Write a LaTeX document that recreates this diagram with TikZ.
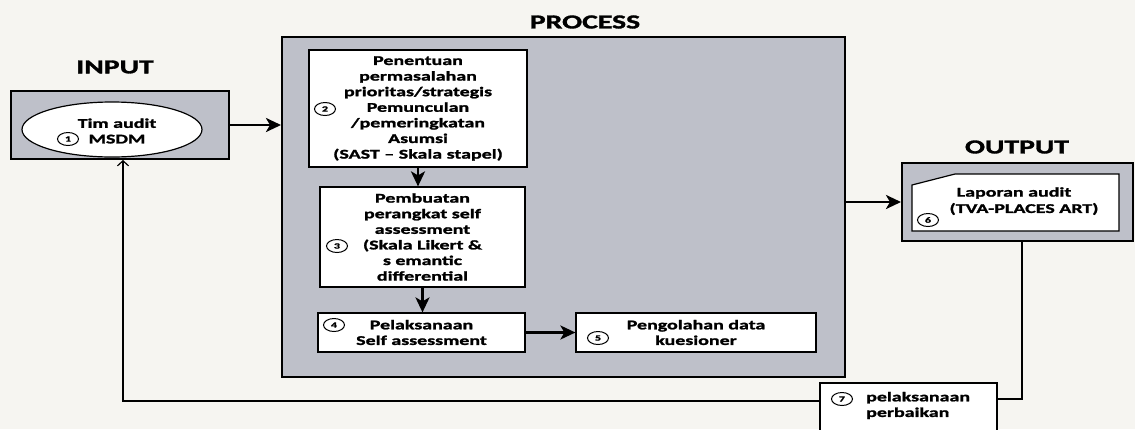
\documentclass[tikz,border=0pt]{standalone}
\usepackage{fontspec}
\setmainfont{Carlito}[FakeStretch=1.5,BoldFeatures={FakeBold=1.6}]
\usetikzlibrary{arrows.meta,shapes.geometric}
\definecolor{paper}{RGB}{246,245,241}
\definecolor{panel}{RGB}{190,192,201}

\begin{document}
\begin{tikzpicture}[x=1pt,y=-1pt,
  panelbox/.style={draw=black,line width=2pt,fill=panel,inner sep=0pt},
  stepbox/.style={draw=black,line width=1.2pt,fill=white,inner sep=0pt,
    font=\bfseries\fontsize{13.3}{15.6}\selectfont,align=center},
  txt/.style={font=\bfseries\fontsize{13.3}{15.6}\selectfont,inner sep=0pt},
  head/.style={font=\bfseries\fontsize{19.8}{22}\selectfont,inner sep=0pt},
  num/.style={draw=black,line width=1pt,ellipse,minimum width=21pt,
    minimum height=13pt,inner sep=0pt,fill=white,
    font=\bfseries\fontsize{8}{8}\selectfont},
  flow/.style={line width=2.8pt,-{Stealth[length=15pt,width=14pt,inset=4pt]}},
  link/.style={line width=1.2pt},
  back/.style={line width=1.2pt,-{Straight Barb[length=5pt,width=11pt]}}]

% page
\fill[paper] (0,0) rectangle (1135,429);
\useasboundingbox (0,0) rectangle (1135,429);

% headings
\node[head] (hin)   at (115,67)  {INPUT};
\node[head] (hproc) at (585,22)  {PROCESS};
\node[head] (hout)  at (1017,147) {OUTPUT};

% input
\node[panelbox,minimum width=218pt,minimum height=68pt] (inbox) at (120,125) {};
\node[draw=black,line width=1.2pt,fill=white,ellipse,minimum width=180pt,
  minimum height=55pt,inner sep=0pt] (team) at (112,129.5) {};
\node[txt,align=center] (teamtxt) at (117,131) {Tim audit\\MSDM};
\node[num] (n1) at (68,139) {1};

% process
\node[panelbox,minimum width=563pt,minimum height=340pt] (procbox) at (563.5,207) {};
\node[stepbox,minimum width=218pt,minimum height=117pt] (b2) at (418,108.5)
  {Penentuan\\permasalahan\\prioritas/strategis\\Pemunculan\\/pemeringkatan\\Asumsi\\(SAST -- Skala stapel)};
\node[num] (n2) at (325,109) {2};
\node[stepbox,minimum width=205pt,minimum height=100pt] (b3) at (422.5,237)
  {Pembuatan\\perangkat self\\assessment\\(Skala Likert \&\\s emantic\\differential};
\node[num] (n3) at (337,246) {3};
\node[stepbox,minimum width=207pt,minimum height=39pt] (b4) at (421.5,332.5)
  {Pelaksanaan\\Self assessment};
\node[num] (n4) at (334,325) {4};
\node[stepbox,minimum width=240pt,minimum height=39pt] (b5) at (696,332.5)
  {Pengolahan data\\kuesioner};
\node[num] (n5) at (598,338) {5};

% output
\node[panelbox,minimum width=231pt,minimum height=78pt] (outbox) at (1017.5,202) {};
\draw[draw=black,line width=1.2pt,fill=white]
  (912,185) -- (955,174) -- (1119,174) -- (1119,231) -- (912,231) -- cycle;
\node[txt] (rep1) at (1014,193) {Laporan audit};
\node[txt] (rep2) at (1024,209) {(TVA-PLACES ART)};
\node[num] (n6) at (928,220) {6};

% improvement step
\node[draw=black,line width=1.2pt,fill=white,minimum width=177pt,
  minimum height=52pt,inner sep=0pt] (b7) at (908.5,409) {};
\node[txt,align=left,anchor=west] (b7txt) at (866,405.5) {pelaksanaan\\perbaikan};
\node[num] (n7) at (842,399) {7};

% connectors
\draw[flow] (inbox.east) -- (inbox.east -| procbox.west);
\draw[flow] (b2.south) -- (b2.south |- b3.north);
\draw[flow] (b3.south) -- (b3.south |- b4.north);
\draw[flow] (b4.east) -- (b4.east -| b5.west);
\draw[flow] (outbox.west -| procbox.east) -- (outbox.west);

\coordinate (fb) at (1022,399);
\draw[link] (outbox.south -| fb) -- (fb) -- (fb -| b7.east);
\coordinate (ret) at (123,401);
\draw[back] (ret -| b7.west) -- (ret) -- (ret |- inbox.south);
\end{tikzpicture}
\end{document}
